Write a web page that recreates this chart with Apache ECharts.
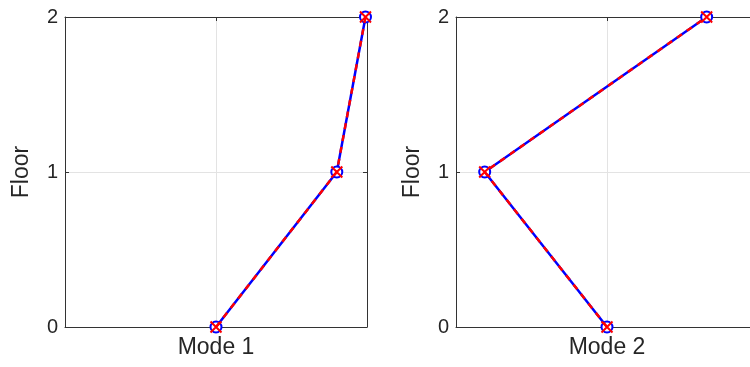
<!DOCTYPE html>
<html><head><meta charset="utf-8">
<script src="https://cdn.jsdelivr.net/npm/echarts@6/dist/echarts.min.js"></script>
<style>html,body{margin:0;padding:0;background:#fff}#c{width:750px;height:367px}</style>
</head><body><div id="c"></div>
<script>
const floors = [0, 1, 2];
const mode1 = [0, 0.80, 0.99];
const mode2 = [0, -0.81, 0.66];
const modeNames = ['Mode 1', 'Mode 2'];
const yTicks = [0, 1, 2];

const FONT = 'Liberation Sans';
const AX = '#333';
const chart = echarts.init(document.getElementById('c'), null, {renderer: 'canvas'});
const grids = [
  {left: 65, top: 17, width: 302, height: 310, outerBoundsMode: 'none'},
  {left: 456, top: 17, width: 302, height: 310, outerBoundsMode: 'none'}
];
const xAxes = [], yAxes = [], series = [];
const modes = [mode1, mode2];
const xMark = 'path://M0,0L10,10M10,0L0,10';
modes.forEach((m, i) => {
  const base = {
    gridIndex: i, type: 'value', min: -1, max: 1, interval: 1,
    axisLine: {show: true, onZero: false, lineStyle: {color: AX, width: 1}},
    axisTick: {show: true, inside: true, length: 4, lineStyle: {color: AX}},
    axisLabel: {show: false},
    splitLine: {show: false}
  };
  xAxes.push(Object.assign({}, base, {
    position: 'bottom',
    name: modeNames[i], nameLocation: 'middle', nameGap: 9,
    nameTextStyle: {fontFamily: FONT, fontSize: 23, color: '#262626', verticalAlign: 'top'},
    splitLine: {show: true, lineStyle: {color: '#e3e3e3', width: 1}}
  }));
  xAxes.push(Object.assign({}, base, {position: 'top'}));
  const ybase = {
    gridIndex: i, type: 'value', min: 0, max: 2, interval: 1,
    axisLine: {show: true, onZero: false, lineStyle: {color: AX, width: 1}},
    axisTick: {show: true, inside: true, length: 4, lineStyle: {color: AX}},
    splitLine: {show: false}
  };
  yAxes.push(Object.assign({}, ybase, {
    position: 'left',
    axisLabel: {show: true, fontFamily: FONT, fontSize: 20, color: '#262626', margin: 7,
      formatter: v => yTicks.includes(v) ? String(v) : ''},
    name: 'Floor', nameLocation: 'middle', nameGap: 32, nameRotate: 90,
    nameTextStyle: {fontFamily: FONT, fontSize: 23, color: '#262626'},
    splitLine: {show: true, lineStyle: {color: '#e3e3e3', width: 1}}
  }));
  yAxes.push(Object.assign({}, ybase, {position: 'right', axisLabel: {show: false}}));
  const pts = floors.map((f, k) => [m[k], f]);
  series.push({
    type: 'line', xAxisIndex: 2 * i, yAxisIndex: 2 * i, data: pts,
    symbol: 'emptyCircle', symbolSize: 11, showAllSymbol: true,
    lineStyle: {color: '#0000ff', width: 2.5},
    itemStyle: {color: '#0000ff', borderColor: '#0000ff', borderWidth: 2.5},
    animation: false, z: 3
  });
  series.push({
    type: 'line', xAxisIndex: 2 * i, yAxisIndex: 2 * i, data: pts,
    symbol: xMark, symbolSize: 11, showAllSymbol: true,
    lineStyle: {color: '#ff0000', width: 2.5, type: [6, 6]},
    itemStyle: {color: '#ff0000', borderColor: '#ff0000', borderWidth: 2},
    animation: false, z: 4
  });
});
chart.setOption({
  animation: false,
  grid: grids,
  xAxis: xAxes,
  yAxis: yAxes,
  series: series
});
</script></body></html>
